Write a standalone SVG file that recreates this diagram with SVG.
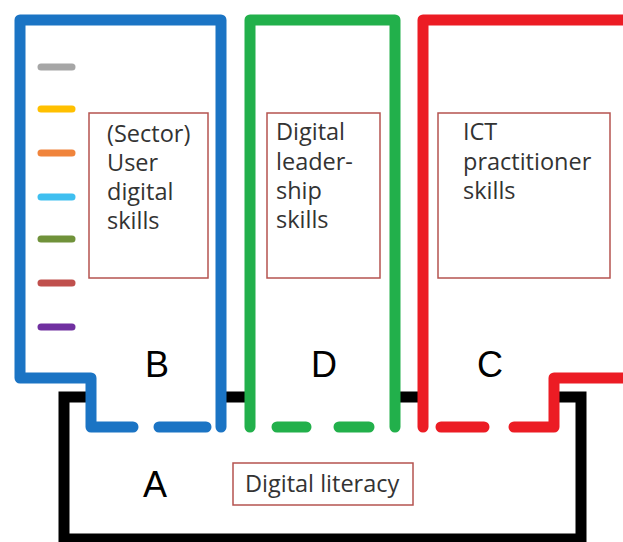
<svg xmlns="http://www.w3.org/2000/svg" width="623" height="542" viewBox="0 0 623 542">
<style>
.frame{fill:#fff;stroke:none}
.ln{fill:none;stroke-width:11;stroke-linecap:round;stroke-linejoin:round}
.blue{stroke:#1b74c4}
.green{stroke:#22b04b}
.red{stroke:#ec1c24}
.black{stroke:#000;stroke-linecap:butt;stroke-linejoin:miter}
.lab{fill:none;stroke:#b5534f;stroke-width:1.5}
.t{font-family:"Open Sans","Liberation Sans",sans-serif;font-size:23.5px;fill:#333}
.big{font-family:"Liberation Sans",sans-serif;font-size:36px;fill:#000;text-anchor:middle}
.leg{stroke-width:7;stroke-linecap:round}
</style>
<rect width="623" height="542" fill="#fff"/>
<g id="connectors">
<path class="ln black" d="M64,539 V397 H581 V539 Z"/>
</g>
<g id="node-A">
<rect class="lab" x="233" y="463" width="180" height="42"/>
<text class="t" x="245" y="492">Digital literacy</text>
<text class="big" x="155" y="497">A</text>
</g>
<g id="node-B">
<path class="frame" d="M20,20 H221 V427 H91 V378 H20 Z"/>
<path class="ln blue" d="M91,427 H133 M159,427 H206 M221,427 V20 H20 V378 H91 V427"/>
<g class="leg">
<line x1="41" y1="67" x2="72" y2="67" stroke="#a6a6a6"/>
<line x1="41" y1="109" x2="72" y2="109" stroke="#ffc000"/>
<line x1="41" y1="153" x2="72" y2="153" stroke="#f0843c"/>
<line x1="41" y1="197" x2="72" y2="197" stroke="#3fbff0"/>
<line x1="41" y1="239" x2="72" y2="239" stroke="#70923a"/>
<line x1="41" y1="283" x2="72" y2="283" stroke="#c0504d"/>
<line x1="41" y1="327" x2="72" y2="327" stroke="#7030a0"/>
</g>
<rect class="lab" x="89" y="113" width="119" height="165"/>
<text class="t" x="107" y="142">(Sector)</text>
<text class="t" x="107" y="171">User</text>
<text class="t" x="107" y="200">digital</text>
<text class="t" x="107" y="229">skills</text>
<text class="big" x="157" y="377">B</text>
</g>
<g id="node-D">
<path class="frame" d="M250,20 H395 V427 H250 Z"/>
<path class="ln green" d="M250,427 V20 H395 V427 M277,427 H306 M339,427 H369"/>
<rect class="lab" x="267" y="113" width="113" height="165"/>
<text class="t" x="276" y="140">Digital</text>
<text class="t" x="276" y="170">leader-</text>
<text class="t" x="276" y="199">ship</text>
<text class="t" x="276" y="228">skills</text>
<text class="big" x="324" y="377">D</text>
</g>
<g id="node-C">
<path class="frame" d="M423,20 H630 V378 H554 V427 H423 Z"/>
<path class="ln red" d="M423,427 V20 H635 M635,378 H554 V427 H514 M441,427 H484"/>
<rect class="lab" x="438" y="113" width="172" height="165"/>
<text class="t" x="463" y="140">ICT</text>
<text class="t" x="463" y="170">practitioner</text>
<text class="t" x="463" y="199">skills</text>
<text class="big" x="490" y="377">C</text>
</g>
</svg>
